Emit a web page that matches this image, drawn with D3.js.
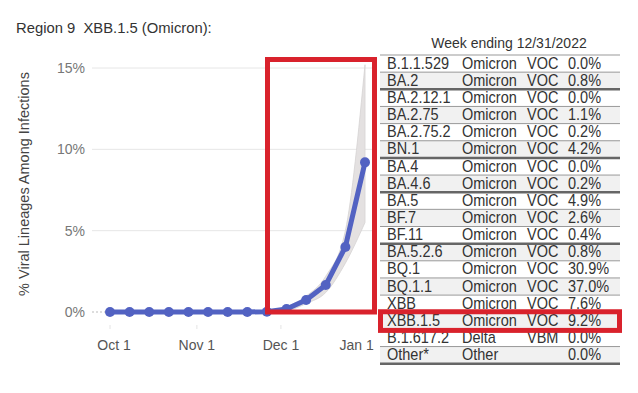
<!DOCTYPE html>
<html><head><meta charset="utf-8">
<script src="https://cdn.jsdelivr.net/npm/d3@7"></script>
<style>
html,body{margin:0;padding:0;background:#fff;}
svg{display:block;font-family:"Liberation Sans",Arial,sans-serif;}
</style></head>
<body>
<svg id="c" width="638" height="393"></svg>
<script>
const weeks = ["2022-10-01","2022-10-08","2022-10-15","2022-10-22","2022-10-29","2022-11-05","2022-11-12","2022-11-19","2022-11-26","2022-12-03","2022-12-10","2022-12-17","2022-12-24","2022-12-31"];
const share = [0,0,0,0,0,0,0,0,0.02,0.18,0.74,1.66,4.0,9.2];
const lowerCI = [0,0,0,0,0,0,0,0,0.0,0.08,0.52,1.2,3.0,5.5];
const upperCI = [0,0,0,0,0,0,0,0,0.05,0.32,0.98,2.2,5.0,15.2];
const yTicks = [0,5,10,15];
const xTicks = ["2022-10-01","2022-11-01","2022-12-01","2023-01-01"];
const xTickLabels = ["Oct 1","Nov 1","Dec 1","Jan 1"];

const lineages = ["B.1.1.529","BA.2","BA.2.12.1","BA.2.75","BA.2.75.2","BN.1","BA.4","BA.4.6","BA.5","BF.7","BF.11","BA.5.2.6","BQ.1","BQ.1.1","XBB","XBB.1.5","B.1.617.2","Other*"];
const whoLabel = ["Omicron","Omicron","Omicron","Omicron","Omicron","Omicron","Omicron","Omicron","Omicron","Omicron","Omicron","Omicron","Omicron","Omicron","Omicron","Omicron","Delta","Other"];
const klass = ["VOC","VOC","VOC","VOC","VOC","VOC","VOC","VOC","VOC","VOC","VOC","VOC","VOC","VOC","VOC","VOC","VBM",""];
const pct = ["0.0%","0.8%","0.0%","1.1%","0.2%","4.2%","0.0%","0.2%","4.9%","2.6%","0.4%","0.8%","30.9%","37.0%","7.6%","9.2%","0.0%","0.0%"];
const groupEnds = [1,5,7,10];
const highlight = "XBB.1.5";

const svg = d3.select("#c");
const parse = d3.utcParse("%Y-%m-%d");
const x = d3.scaleUtc().domain([parse(weeks[0]), parse(weeks[weeks.length-1])]).range([110,365]);
const y = d3.scaleLinear().domain([0,15]).range([312,68]);

// title
svg.append("text").attr("x",16).attr("y",33).attr("font-size",14.8).attr("fill","#333")
  .style("white-space","pre").text("Region 9  XBB.1.5 (Omicron):");

// y label
svg.append("text").attr("transform","translate(29,184) rotate(-90)").attr("text-anchor","middle")
  .attr("font-size",14.5).attr("fill","#444").text("% Viral Lineages Among Infections");

// grid
const g = svg.append("g");
g.selectAll("line.grid").data(yTicks.filter(d=>d>0)).join("line")
  .attr("x1",92).attr("x2",376).attr("y1",d=>y(d)).attr("y2",d=>y(d))
  .attr("stroke","#e6e6e6").attr("stroke-width",1);
g.append("line").attr("x1",92).attr("x2",110).attr("y1",y(0)).attr("y2",y(0))
  .attr("stroke","#bbb").attr("stroke-dasharray","2,2");
g.selectAll("text.yt").data(yTicks).join("text")
  .attr("x",85).attr("y",d=>y(d)+5).attr("text-anchor","end").attr("font-size",14).attr("fill","#777")
  .text(d=>d+"%");

// x tick labels
g.selectAll("text.xt").data(xTicks).join("text")
  .attr("x",d=>x(parse(d))).attr("y",350)
  .attr("text-anchor",(d,i)=>i===xTicks.length-1?"end":"middle")
  .attr("dx",(d,i)=>i===xTicks.length-1?6:(i===0?4:0))
  .attr("font-size",14).attr("fill","#555")
  .text((d,i)=>xTickLabels[i]);
g.selectAll("line.xtk").data(xTicks.slice(0,3)).join("line")
  .attr("x1",d=>x(parse(d))).attr("x2",d=>x(parse(d))).attr("y1",325).attr("y2",329)
  .attr("stroke","#e4e4e4");

// band
const pts = weeks.map((w,i)=>({d:parse(w),v:share[i],lo:lowerCI[i],hi:upperCI[i]}));
g.append("path").datum(pts)
  .attr("d",d3.area().x(d=>x(d.d)).y0(d=>y(d.lo)).y1(d=>y(d.hi)).curve(d3.curveMonotoneX))
  .attr("fill","#e4e1e1").attr("stroke","#d6d3d3").attr("stroke-width",0.8);

// line
g.append("path").datum(pts)
  .attr("d",d3.line().x(d=>x(d.d)).y(d=>y(d.v)))
  .attr("fill","none").attr("stroke","#5262c2").attr("stroke-width",5).attr("stroke-linejoin","round");
g.selectAll("circle").data(pts).join("circle")
  .attr("cx",d=>x(d.d)).attr("cy",d=>y(d.v)).attr("r",5).attr("fill","#5262c2");

// table
const t = svg.append("g");
const tx0 = 380, tx1 = 620, ty0 = 55, rh = 17.15;
t.append("text").attr("x",509).attr("y",48).attr("text-anchor","middle").attr("font-size",14).attr("fill","#333")
  .text("Week ending 12/31/2022");
lineages.forEach((l,i)=>{
  const top = ty0 + i*rh;
  if(i%2===1) t.append("rect").attr("x",tx0).attr("y",top).attr("width",tx1-tx0).attr("height",rh).attr("fill","#f1f1f1");
});
t.append("line").attr("x1",tx0).attr("x2",tx1).attr("y1",ty0).attr("y2",ty0).attr("stroke","#999").attr("stroke-width",1);
lineages.forEach((l,i)=>{
  const bot = ty0 + (i+1)*rh;
  const last = i===lineages.length-1;
  const thick = groupEnds.includes(i) || last;
  t.append("line").attr("x1",tx0).attr("x2",tx1).attr("y1",bot).attr("y2",bot)
    .attr("stroke",thick?"#666":"#999").attr("stroke-width",thick?2.5:1);
});
const rows = t.selectAll("g.row").data(lineages).join("g")
  .attr("transform",(d,i)=>`translate(0,${ty0 + i*rh + 13.6}) scale(1,1.1)`)
  .attr("font-size",14.5).attr("fill","#333");
rows.append("text").attr("x",387).text(d=>d);
rows.append("text").attr("x",462).text((d,i)=>whoLabel[i]);
rows.append("text").attr("x",527).text((d,i)=>klass[i]);
rows.append("text").attr("x",568).text((d,i)=>pct[i]);

// red highlight boxes
const hi = lineages.indexOf(highlight);
const red = "#d9222c";
svg.append("rect").attr("x",267.5).attr("y",59.5).attr("width",107).attr("height",y(0)-59.5)
  .attr("fill","none").attr("stroke",red).attr("stroke-width",5);
svg.append("rect").attr("x",380.5).attr("y",ty0 + hi*rh - 0.5).attr("width",239).attr("height",rh+1.5)
  .attr("fill","none").attr("stroke",red).attr("stroke-width",5);
</script>
</body></html>
